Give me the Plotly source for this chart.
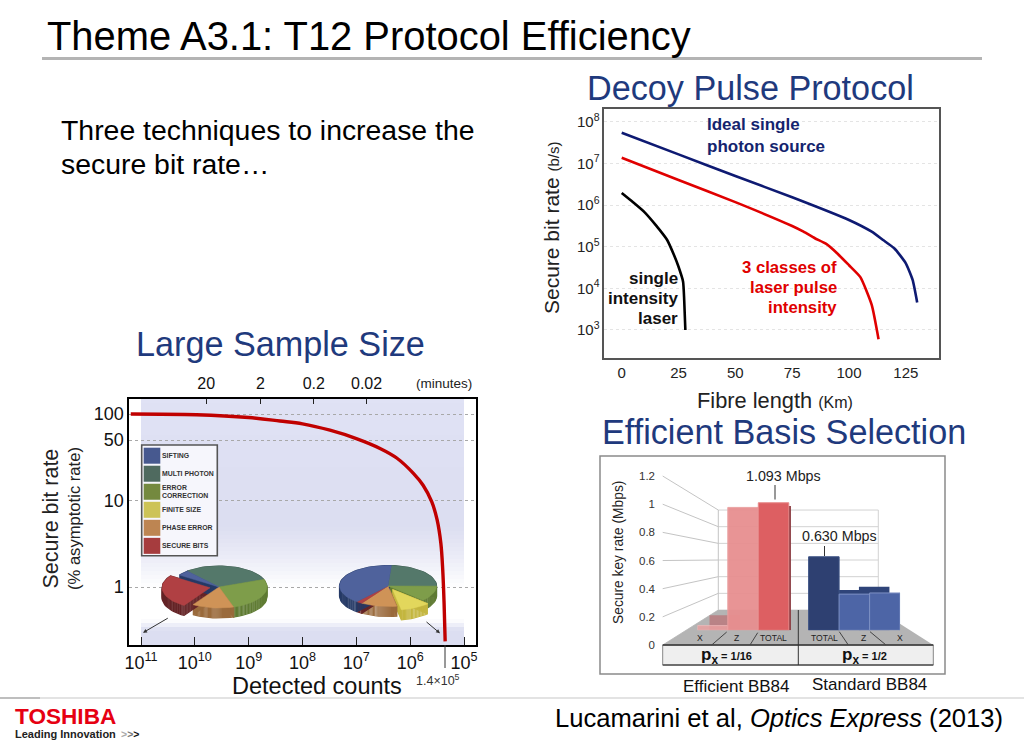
import math
import plotly.graph_objects as go

W, H = 1024, 747
FONT = "Liberation Sans"

# ---- Decoy pulse protocol (km, secure bit rate b/s) ----
ideal_km = [0, 25, 50, 75, 100, 110, 115, 120, 125, 128, 130]
ideal_rate = [5.5e7, 1.66e7, 5.0e6, 1.55e6, 4.4e5, 2.3e5, 1.45e5, 9.1e4, 4.0e4, 1.6e4, 4.6e3]
decoy_km = [0, 25, 50, 75, 80, 85, 90, 95, 100, 105, 110, 113]
decoy_rate = [1.38e7, 4.0e6, 1.18e6, 3.15e5, 2.3e5, 1.6e5, 1.17e5, 6.8e4, 3.6e4, 1.86e4, 4.0e3, 6.0e2]
single_km = [0, 5, 10, 15, 20, 23, 25, 27, 27.5, 28]
single_rate = [1.95e6, 1.17e6, 6.8e5, 3.3e5, 1.45e5, 6.3e4, 3.3e4, 1.45e4, 5.2e3, 1.0e3]
decoy_x_ticks = [0, 25, 50, 75, 100, 125]
decoy_y_exps = [3, 4, 5, 6, 7, 8]

# ---- Large sample size (detected counts, % of asymptotic rate) ----
counts_log = [11.19, 9.97, 9.0, 8.42, 8.0, 7.49, 7.0, 6.56, 6.25, 5.94, 5.76, 5.6, 5.5, 5.43, 5.395, 5.37, 5.35]
percent = [100, 98, 91, 83, 77, 65, 52, 40, 31, 20.6, 15, 9.7, 6.0, 3.2, 1.57, 0.65, 0.235]
count_exps = [11, 10, 9, 8, 7, 6, 5]
pct_ticks = [100, 50, 10, 1]
minutes_labels = ["20", "2", "0.2", "0.02"]
minutes_log = [9.79, 8.78, 7.79, 6.81]
legend_labels = ["SIFTING", "MULTI PHOTON", "ERROR<br>CORRECTION", "FINITE SIZE", "PHASE ERROR", "SECURE BITS"]
legend_colors = ["#47598f", "#4f6a5f", "#74893f", "#cdc357", "#bd8552", "#a63c3e"]
# slices in pie order, clockwise starting at the angle given below, degrees
pie_top = ["#54786a", "#7e9d4a", "#e2d75c", "#cf9357", "#b04043", "#4f629c"]
pie_side = ["#3e5a50", "#5f7b33", "#c4b63f", "#9a6a3c", "#642326", "#263a66"]
pie_a_values = [30.5, 26, 0, 14, 25.5, 4]
pie_b_values = [24, 12, 10, 12, 2, 40]

# ---- Efficient basis selection (Mbps) ----
bar_labels = ["X", "Z", "TOTAL", "TOTAL", "Z", "X"]
bar_values = [0.04, 1.053, 1.093, 0.63, 0.31, 0.32]
bar_colors = ["#e9a0a0", "#e78f90", "#dd5f62", "#2e4071", "#4d65a6", "#4d65a6"]
back_colors = ["#b98386", "rgba(0,0,0,0)", "#8b3a40", "rgba(0,0,0,0)", "#2f4479", "#2f4479"]
back_values = [0.13, 0, 1.065, 0, 0.346, 0.374]
key_ticks = [0, 0.2, 0.4, 0.6, 0.8, 1, 1.2]


def X(px):
    return px / W


def Y(px):
    return 1 - px / H


annotations, shapes = [], []


def txt(x, y, s, size, color="#000", anchor="center", angle=0, bold=False):
    annotations.append(dict(
        x=X(x), y=Y(y), xref="paper", yref="paper", text=f"<b>{s}</b>" if bold else s, showarrow=False,
        xanchor=anchor, yanchor="middle", textangle=angle,
        font=dict(family=FONT, size=size, color=color), borderpad=0, borderwidth=0,
    ))


def line(x0, y0, x1, y1, color="#000", width=1, dash="solid", layer="below"):
    shapes.append(dict(type="line", xref="paper", yref="paper", x0=X(x0), y0=Y(y0), x1=X(x1), y1=Y(y1),
                       line=dict(color=color, width=width, dash=dash), layer=layer))


def rect(x0, y0, x1, y1, fill, lc="rgba(0,0,0,0)", lw=0, layer="below"):
    shapes.append(dict(type="rect", xref="paper", yref="paper", x0=X(x0), y0=Y(y0), x1=X(x1), y1=Y(y1),
                       fillcolor=fill, line=dict(color=lc, width=lw), layer=layer))


def dom_x(a, b):
    return [a / W, b / W]


def dom_y(top, bottom):
    return [1 - bottom / H, 1 - top / H]


fig = go.Figure()

# ---------- slide furniture ----------
txt(47, 36.5, "Theme A3.1: T12 Protocol Efficiency", 39.9, anchor="left")
line(42, 58.5, 982, 58.5, "#b4b4b4", 3)
BLUE = "#1f3a7d"
txt(750, 88, "Decoy Pulse Protocol", 34.2, BLUE)
txt(280, 344, "Large Sample Size", 34.2, BLUE)
txt(784, 432, "Efficient Basis Selection", 34.2, BLUE)
txt(61, 130, "Three techniques to increase the", 28.4, anchor="left")
txt(61, 164, "secure bit rate…", 28.4, anchor="left")
line(0, 698, 40, 698, "#a8a8a8", 1.5)
line(40, 698, 1024, 698, "#dadada", 1.5)
txt(555, 718, "Lucamarini et al, <i>Optics Express</i> (2013)", 25.6, anchor="left")
txt(15, 716, "TOSHIBA", 22.6, "#e60012", anchor="left", bold=True)
txt(15, 734, "Leading Innovation", 11, "#222", anchor="left", bold=True)
txt(120.5, 734, "<span style='color:#aaa'>&gt;</span><span style='color:#777'>&gt;</span>&gt;", 10.5, "#111", anchor="left", bold=True)

# ---------- Decoy chart ----------
curve_shape = dict(width=2.6, shape="spline", smoothing=0.5)
fig.add_trace(go.Scatter(x=single_km, y=single_rate, mode="lines", line=dict(color="#000", **curve_shape), xaxis="x", yaxis="y"))
fig.add_trace(go.Scatter(x=decoy_km, y=decoy_rate, mode="lines", line=dict(color="#e00000", **curve_shape), xaxis="x", yaxis="y"))
fig.add_trace(go.Scatter(x=ideal_km, y=ideal_rate, mode="lines", line=dict(color="#0e1a72", **curve_shape), xaxis="x", yaxis="y"))
axis_font = dict(family=FONT, size=15, color="#222")
xaxis_decoy = dict(domain=dom_x(604.3, 939), range=[-7.66, 139.6], anchor="y", tickvals=decoy_x_ticks,
                   showgrid=False, zeroline=False, showline=True, linecolor="#555", linewidth=1.5, mirror=True,
                   ticks="", tickfont=axis_font)
yaxis_decoy = dict(domain=dom_y(109, 358), type="log", range=[2.327, 8.31], anchor="x",
                   tickvals=[10 ** e for e in decoy_y_exps], ticktext=[f"10<sup>{e}</sup>" for e in decoy_y_exps],
                   showgrid=True, gridcolor="#e4e4e4", griddash="dot", gridwidth=1, zeroline=False,
                   showline=True, linecolor="#555", linewidth=1.5, mirror=True, ticks="", tickfont=axis_font)
txt(551, 228, "Secure bit rate <span style='font-size:15px'>(b/s)</span>", 21, "#222", angle=-90)
txt(775, 400, "Fibre length <span style='font-size:16px'>(Km)</span>", 21.8, "#222")
for i, s in enumerate(["Ideal single", "photon source"]):
    txt(706.5, 125 + 21 * i, s, 17, "#14246e", "left", bold=True)
for i, s in enumerate(["single", "intensity", "laser"]):
    txt(677.5, 278 + 20 * i, s, 17, "#111", "right", bold=True)
for i, s in enumerate(["3 classes of", "laser pulse", "intensity"]):
    txt(837, 267 + 20.3 * i, s, 16.7, "#e00000", "right", bold=True)

# ---------- Large sample chart ----------
for k in range(0, 62):
    yy = 399 + 4 * k
    if yy < 520:
        c = (224 - (yy - 399) * 0.03, 226 - (yy - 399) * 0.03, 245 - (yy - 399) * 0.03)
    elif yy < 585:
        f = (yy - 520) / 65
        f = f ** 1.3
        c = (220 + 35 * f, 222 + 33 * f, 241 + 14 * f)
    elif yy < 618:
        c = (255, 255, 255)
    else:
        f = min(1, (yy - 618) / 10)
        c = (255 - 35 * f, 255 - 33 * f, 255 - 14 * f)
    rect(141, yy, 464, min(yy + 4, 645), "rgb(%d,%d,%d)" % c)

fig.add_trace(go.Scatter(x=[10 ** v for v in counts_log], y=percent, mode="lines",
                         line=dict(color="#c00000", width=3.4, shape="spline", smoothing=1.0), xaxis="x2", yaxis="y2"))
xrange2 = [11 + (141 - 129.3) / 53.83, 5 - (476 - 464) / 53.83]
yaxis_counts = dict(domain=dom_y(399.3, 645.3), type="log", range=[-0.674, 2.17], anchor="x2",
                    tickvals=pct_ticks, ticktext=[str(v) for v in pct_ticks], showgrid=True, gridcolor="#a8a8a8",
                    griddash="dot", gridwidth=1, zeroline=False, showline=True, linecolor="#000", linewidth=2,
                    mirror=True, ticks="", tickfont=dict(family=FONT, size=18, color="#111"))
xaxis_counts = dict(domain=dom_x(129.3, 476), type="log", range=xrange2, anchor="y2",
                    tickvals=[10 ** e for e in count_exps], ticktext=[f"10<sup>{e}</sup>" for e in count_exps],
                    showgrid=False, zeroline=False, showline=True, linecolor="#000", linewidth=2, mirror=True,
                    ticks="inside", ticklen=8, tickcolor="#222", tickwidth=1,
                    tickfont=dict(family=FONT, size=18, color="#111"))
xaxis_minutes = dict(domain=dom_x(129.3, 476), type="log", range=xrange2, anchor="y2", side="top", overlaying="x2",
                     tickvals=[10 ** v for v in minutes_log], ticktext=minutes_labels, showgrid=False, zeroline=False,
                     ticks="inside", ticklen=5, tickcolor="#222", tickwidth=1, showline=False, ticklabelstandoff=6,
                     tickfont=dict(family=FONT, size=16, color="#111"))
fig.add_trace(go.Scatter(x=[10 ** minutes_log[0]], y=[1], mode="markers", marker=dict(opacity=0),
                         xaxis="x3", yaxis="y2"))
txt(444, 383, "(minutes)", 13.5, "#222")
txt(50.5, 519, "Secure bit rate", 21.5, "#222", angle=-90)
txt(74, 519, "(% asymptotic rate)", 16.6, "#222", angle=-90)
txt(317, 686, "Detected counts", 23.5, "#111")
line(445, 645, 445, 668, "#333", 1, layer="above")
txt(438, 679.5, "1.4×10<sup>5</sup>", 12.5, "#333")
for x0, y0, x1, y1 in [(169.3, 617.3, 143, 632.7), (425, 620.7, 440, 633.3)]:
    annotations.append(dict(x=X(x1), y=Y(y1), ax=x0 - x1, ay=y0 - y1, xref="paper", yref="paper",
                            text="", showarrow=True, arrowhead=2, arrowsize=0.8, arrowwidth=1,
                            arrowcolor="#333"))

# legend of the pies
rect(141.7, 445, 217.3, 555.7, "#f6f6fc", "#555", 1.6, layer="above")
for i, (lab, col) in enumerate(zip(legend_labels, legend_colors)):
    top = 447.7 + 18.03 * i
    rect(143.7, top, 160.3, top + 16, col, layer="above")
    parts = lab.split("<br>")
    for j, p in enumerate(parts):
        txt(161.8, top + 8 + (j - (len(parts) - 1) / 2) * 8.2, p, 6.9, "#333", "left", bold=True)

# pies: overlay axes in slide pixels, geometry computed from slice shares


def pie(cx, cy, rx, ry, depth, values, start, explode):
    total = sum(values)
    ang = start
    sides, tops = [], []
    for v, ex in zip(values, explode):
        sweep = 360 * v / total
        if v == 0:
            sides.append(None)
            tops.append(None)
            continue
        mid = math.radians(ang + sweep / 2)
        ox = cx + ex * rx * math.sin(mid)
        oy = cy - ex * ry * math.cos(mid)
        n = max(3, int(sweep / 4))
        xs, ys = [ox], [oy]
        for k in range(n + 1):
            a = math.radians(ang + sweep * k / n)
            xs.append(ox + rx * math.sin(a))
            ys.append(oy - ry * math.cos(a))
        xs.append(ox)
        ys.append(oy)
        tops.append((xs, ys))
        sx, sy = [], []
        for d in range(0, int(depth) + 1):
            sx += xs + [None]
            sy += [q + d for q in ys] + [None]
        sides.append((sx, sy))
        ang += sweep
    for idx, s in enumerate(sides):
        if s:
            fig.add_trace(go.Scatter(x=s[0], y=s[1], mode="lines", line=dict(color=pie_side[idx], width=1.2),
                                     xaxis="x5", yaxis="y5"))
    for idx, t in enumerate(tops):
        if t:
            fig.add_trace(go.Scatter(x=t[0], y=t[1], mode="lines", fill="toself", fillcolor=pie_top[idx],
                                     line=dict(color=pie_top[idx], width=0.5), xaxis="x5", yaxis="y5"))


pie(219, 587, 48, 21, 10, pie_a_values, 319, [0, 0, 0, 0, 0.19, 0])
pie(388, 586, 48.5, 20.5, 10, pie_b_values, 4, [0, 0, 0.2, 0, 0, 0])

# ---------- Basis selection chart ----------
rect(600, 456, 945, 674, "#ffffff", "#8a8a8a", 1.5)
FL, WL, WR, FR = 662.7, 718.3, 878.3, 933.3
FLOOR_F, FLOOR_B = 645, 610
for v in key_ticks:
    front = FLOOR_F - v * 140.8
    wall = FLOOR_B - v * 83.3
    line(FL, front, WL, wall, "#c4c4c4", 1)
    line(WL, wall, WR, wall, "#d2d2d2", 1)
line(WL, FLOOR_B, WL, FLOOR_B - 100, "#c4c4c4", 1)
line(WR, FLOOR_B, WR, FLOOR_B - 100, "#d2d2d2", 1)
shapes.append(dict(type="path", xref="paper", yref="paper", layer="below", fillcolor="#b4b4b4",
                   line=dict(width=0),
                   path=f"M {X(FL)} {Y(FLOOR_F)} L {X(WL)} {Y(FLOOR_B)} L {X(WR)} {Y(FLOOR_B)} L {X(FR)} {Y(FLOOR_F)} Z"))
rect(FL, FLOOR_F, FR, 665, "#efefef", "#888", 1)
line(FL, FLOOR_F, FR, FLOOR_F, "#333", 1.6)
line(FL, 665, FR, 665, "#555", 1.4)
line(798.3, 610, 798.3, 665, "#333", 1)
for a, b, c, d in [(711.7, 645, 726.7, 632), (750, 645, 757.7, 632.7), (848.3, 645, 839.3, 631.7), (886, 645, 870, 631.7)]:
    line(a, b, c, d, "#444", 1)
bar_label_x = [700, 736.7, 773.3, 824.3, 863.3, 900]
for x_, lab in zip(bar_label_x, bar_labels):
    txt(x_, 638, lab, 8.6, "#222")
txt(726, 655.7, "<span style='font-size:17px'>p<sub>x</sub></span> = 1/16", 11, "#111", bold=True)
txt(864, 655.7, "<span style='font-size:17px'>p<sub>x</sub></span> = 1/2", 11, "#111", bold=True)

GROUP_GAP = 0.65
slots = [i + (GROUP_GAP if i >= 3 else 0) for i in range(len(bar_values))]
back_lean = [0.4, 0, 0.07, 0, -0.3, -0.35]
fig.add_trace(go.Bar(x=[s + l for s, l in zip(slots, back_lean)], y=back_values, width=1.0,
                     marker=dict(color=back_colors, line=dict(width=0)), xaxis="x4", yaxis="y3"))
fig.add_trace(go.Bar(x=slots, y=bar_values, width=1.0,
                     marker=dict(color=bar_colors, opacity=[0.85, 0.95, 1, 1, 1, 1],
                                 line=dict(width=1, color=["#f0b8b8", "#eaa0a0", "#e78a8a", "#3d5285", "#7d90c4", "#7d90c4"])),
                     xaxis="x4", yaxis="y3"))
xaxis_bars = dict(domain=dom_x(697.3, 900.1), range=[-0.5, 6.15], anchor="y3", visible=False)
yaxis_bars = dict(domain=dom_y(630.3 - 1.3 * 116.7, 630.3), range=[0, 1.3], anchor="x4", visible=False)
yaxis_keyticks = dict(domain=dom_y(476, 645), range=[0, 1.2], anchor="x6", tickvals=key_ticks,
                      ticktext=[f"{v:g}" for v in key_ticks], showgrid=False, zeroline=False, showline=False,
                      ticks="", ticklabelstandoff=3, tickfont=dict(family=FONT, size=11.5, color="#333"))
xaxis_keyticks = dict(domain=dom_x(659, 900), range=[0, 1], anchor="y6", visible=False)
fig.add_trace(go.Scatter(x=[0.5], y=[0.5], mode="markers", marker=dict(opacity=0), xaxis="x6", yaxis="y6"))
txt(618, 553, "Secure key rate (Mbps)", 13.8, "#222", angle=-90)
txt(783, 476, "1.093 Mbps", 14.3, "#222")
line(775, 485, 775, 499.5, "#333", 1)
txt(839, 536, "0.630 Mbps", 14.3, "#222")
line(824.5, 546, 824.5, 556, "#333", 1)
txt(735.7, 686, "Efficient BB84", 17, "#111")
txt(869.5, 684.5, "Standard BB84", 17, "#111")

fig.update_layout(
    template="none",
    width=W, height=H, margin=dict(l=0, r=0, t=0, b=0, pad=0, autoexpand=False), paper_bgcolor="#ffffff", plot_bgcolor="rgba(0,0,0,0)",
    showlegend=False, barmode="overlay", font=dict(family=FONT), shapes=shapes, annotations=annotations,
    xaxis=xaxis_decoy, yaxis=yaxis_decoy,
    xaxis2=xaxis_counts, yaxis2=yaxis_counts, xaxis3=xaxis_minutes,
    xaxis4=xaxis_bars, yaxis3=yaxis_bars,
    xaxis5=dict(domain=[0, 1], range=[0, W], anchor="y5", visible=False),
    yaxis5=dict(domain=[0, 1], range=[H, 0], anchor="x5", visible=False),
    xaxis6=xaxis_keyticks, yaxis6=yaxis_keyticks,
)
fig.write_html("out.html", config=dict(displayModeBar=False), post_script="document.body.style.margin='0';")
